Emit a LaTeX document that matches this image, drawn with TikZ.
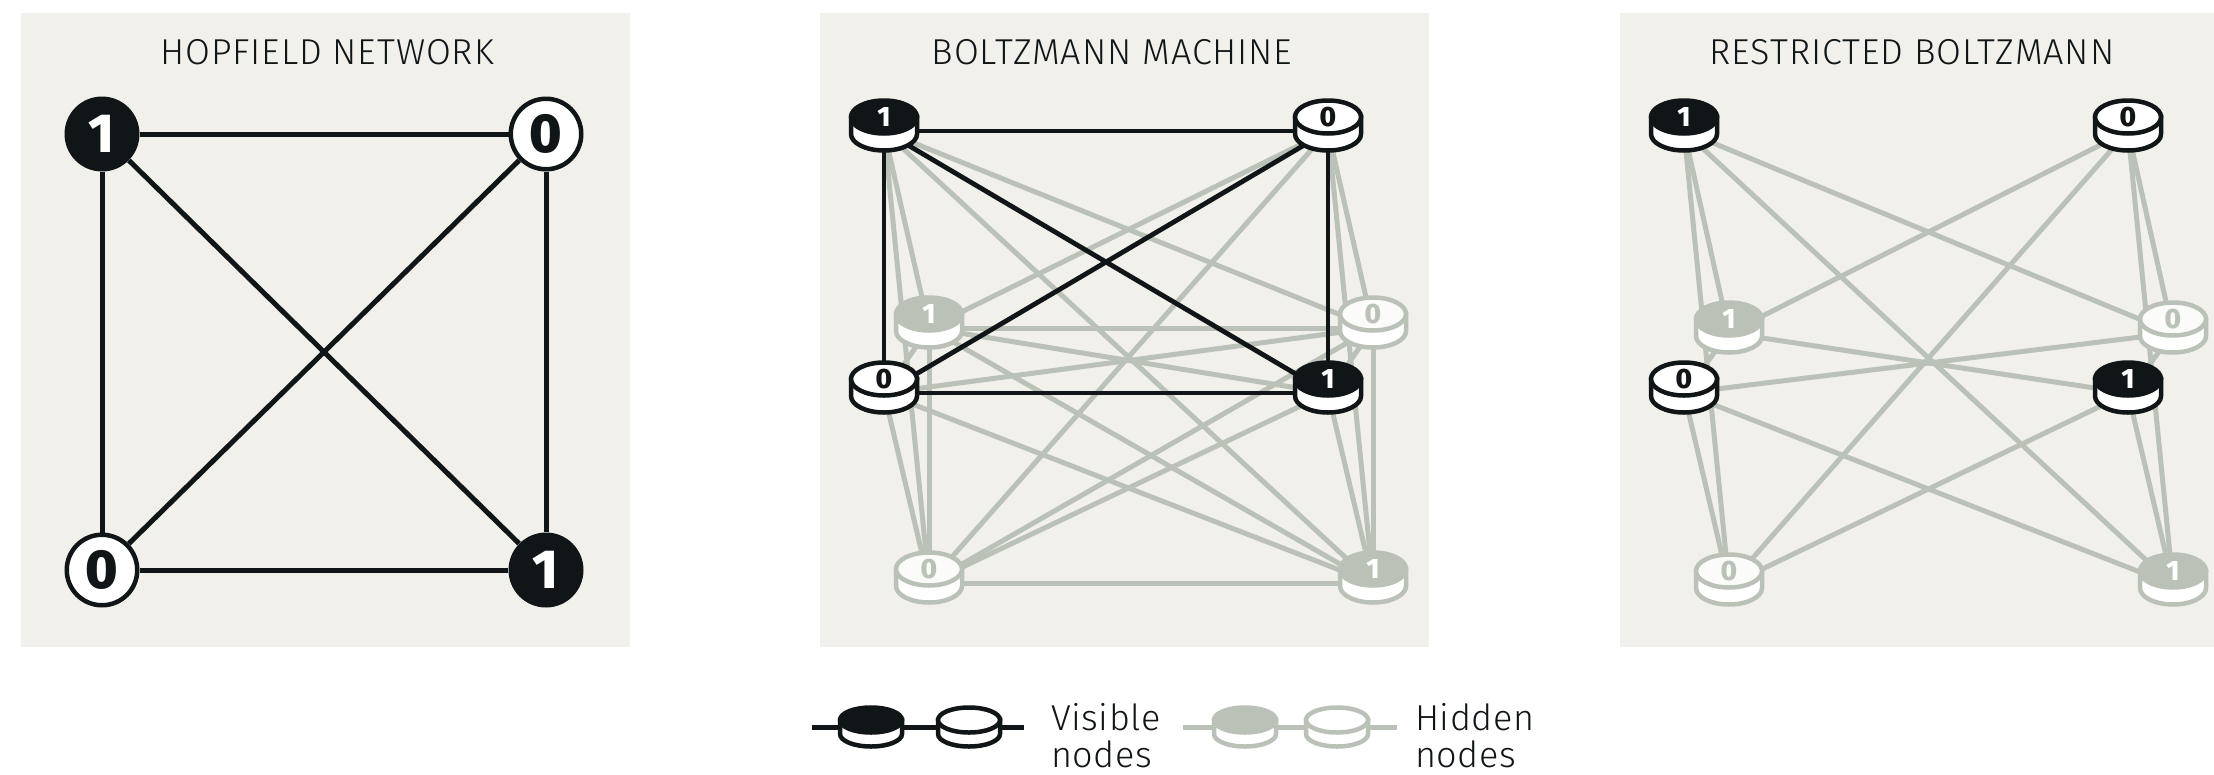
\documentclass[tikz,border=0pt]{standalone}
\usepackage{fontspec}
\newfontfamily\titlefont{Fira Sans Light}[LetterSpace=2.5]
\newfontfamily\legfont{Fira Sans Light}[LetterSpace=1.5]
\newfontfamily\digfont{Fira Sans ExtraBold}
\definecolor{bg}{HTML}{F1F0EA}
\definecolor{ink}{HTML}{101517}
\definecolor{sage}{HTML}{BAC2B7}
\definecolor{hw}{HTML}{FBFBF9}
\pgfdeclarelayer{back}
\pgfdeclarelayer{edges}
\pgfsetlayers{back,edges,main}
\def\drx{33}\def\dry{16.5}\def\doff{17}\def\dlw{4.5}
\newcommand\Disc[7]{%
  \coordinate (#1) at (#2,#3+14);
  \draw[fill=white, draw=#5, line width=\dlw pt] (#2,#3) ++(-\drx pt,0pt) -- ++(0pt,-\doff pt)
     arc[start angle=180,end angle=360,x radius=\drx pt,y radius=\dry pt] -- ++(0pt,\doff pt) -- cycle;
  \draw[fill=#4, draw=#5, line width=\dlw pt] (#2,#3) ellipse[x radius=\drx pt, y radius=\dry pt];
  \node[discdigit, text=#6] (#1d) at (#2,#3) {#7};
}
\tikzset{
  title/.style={font=\titlefont\fontsize{36}{40}\selectfont, text=ink, anchor=base, inner sep=0pt},
  legtext/.style={font=\legfont\fontsize{36}{40}\selectfont, text=ink, anchor=base west, inner sep=0pt},
  blk/.style={draw=ink, line width=4.8pt},
  gry/.style={draw=sage, line width=5pt},
  discdigit/.style={font=\digfont\fontsize{28}{28}\selectfont, inner sep=0pt},
  hone/.style={circle, fill=ink, minimum size=75pt, inner sep=0pt, text=white,
     font=\digfont\fontsize{55}{55}\selectfont},
  hzero/.style={circle, fill=white, draw=ink, line width=4.5pt, minimum size=70.5pt, inner sep=0pt, text=ink,
     font=\digfont\fontsize{55}{55}\selectfont},
}
\begin{document}
\begin{tikzpicture}[x=1pt,y=-1pt]
\useasboundingbox (0,0) rectangle (2214,774);
\begin{pgfonlayer}{back}
\fill[white] (0,0) rectangle (2214,774);
\fill[bg] (21,13) rectangle (630,647);
\fill[bg] (820,13) rectangle (1429,647);
\fill[bg] (1620,13) rectangle (2214,647);
\end{pgfonlayer}

% titles
\node[title] (t1) at (327,64) {HOPFIELD NETWORK};
\node[title] (t2) at (1112,64) {BOLTZMANN MACHINE};
\node[title] (t3) at (1912,64) {RESTRICTED BOLTZMANN};

% Hopfield
\node[hone] (h1) at (102,134) {1};
\node[hzero] (h2) at (546,134) {0};
\node[hzero] (h3) at (102,570) {0};
\node[hone] (h4) at (546,570) {1};
\begin{pgfonlayer}{edges}
\foreach \a/\b in {h1/h2,h1/h3,h1/h4,h2/h3,h2/h4,h3/h4} \draw[blk, line width=5pt] (\a) -- (\b);
\end{pgfonlayer}

% Boltzmann machine
\Disc{b5}{929}{314}{sage}{sage}{white}{1}
\Disc{b6}{1373}{314}{hw}{sage}{sage}{0}
\Disc{b7}{929}{569}{hw}{sage}{sage}{0}
\Disc{b8}{1373}{569}{sage}{sage}{white}{1}
\Disc{b1}{884}{117}{ink}{ink}{white}{1}
\Disc{b2}{1328}{117}{white}{ink}{ink}{0}
\Disc{b3}{884}{379}{white}{ink}{ink}{0}
\Disc{b4}{1328}{379}{ink}{ink}{white}{1}
\begin{pgfonlayer}{edges}
\foreach \a in {b1,b2,b3,b4} \foreach \b in {b5,b6,b7,b8} \draw[gry] (\a) -- (\b);
\foreach \a/\b in {b5/b6,b5/b7,b5/b8,b6/b7,b6/b8,b7/b8} \draw[gry] (\a) -- (\b);
\foreach \a/\b in {b1/b2,b1/b3,b1/b4,b2/b3,b2/b4,b3/b4} \draw[blk] (\a) -- (\b);
\end{pgfonlayer}

% Restricted Boltzmann machine
\Disc{r5}{1729}{319}{sage}{sage}{white}{1}
\Disc{r6}{2173}{319}{hw}{sage}{sage}{0}
\Disc{r7}{1729}{571}{hw}{sage}{sage}{0}
\Disc{r8}{2173}{571}{sage}{sage}{white}{1}
\Disc{r1}{1684}{117}{ink}{ink}{white}{1}
\Disc{r2}{2128}{117}{white}{ink}{ink}{0}
\Disc{r3}{1684}{379}{white}{ink}{ink}{0}
\Disc{r4}{2128}{379}{ink}{ink}{white}{1}
\begin{pgfonlayer}{edges}
\foreach \a in {r1,r2,r3,r4} \foreach \b in {r5,r6,r7,r8} \draw[gry] (\a) -- (\b);
\end{pgfonlayer}

% legend
\def\drx{31}\def\dry{12.5}\def\doff{14}
\coordinate (lv0) at (812,727);
\coordinate (lv1) at (1024,727);
\coordinate (lh0) at (1183,727);
\coordinate (lh1) at (1397,727);
\begin{pgfonlayer}{edges}
\draw[blk, line width=5pt] (lv0) -- (lv1);
\draw[gry] (lh0) -- (lh1);
\end{pgfonlayer}
\Disc{lv2}{871}{720}{ink}{ink}{white}{}
\Disc{lv3}{969}{720}{white}{ink}{ink}{}
\Disc{lh2}{1245}{720}{sage}{sage}{white}{}
\Disc{lh3}{1337}{720}{white}{sage}{sage}{}
\node[legtext] (vis) at (1051,730) {Visible};
\node[legtext] (visn) at (1051,767) {nodes};
\node[legtext] (hid) at (1415,730) {Hidden};
\node[legtext] (hidn) at (1415,767) {nodes};
\end{tikzpicture}
\end{document}
